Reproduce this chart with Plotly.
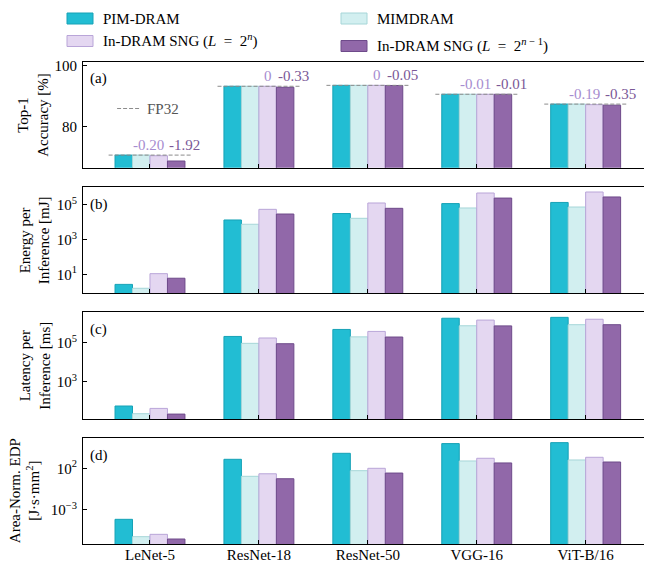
import plotly.graph_objects as go
from plotly.subplots import make_subplots

# ---------------- data ----------------
models = ["LeNet-5", "ResNet-18", "ResNet-50", "VGG-16", "ViT-B/16"]
series_names = ["PIM-DRAM", "MIMDRAM",
                "In-DRAM SNG (<i>L</i>\u2002=\u20022<sup><i>n</i></sup>)",
                "In-DRAM SNG (<i>L</i>\u2002=\u20022<sup><i>n</i>\u2005−\u20051</sup>)"]

fp32_acc = [70.8, 93.2, 93.5, 90.6, 87.4]
acc_pim = [70.8, 93.2, 93.5, 90.6, 87.4]
acc_mim = [70.8, 93.2, 93.5, 90.6, 87.4]
acc_sng_n = [70.6, 93.2, 93.5, 90.59, 87.21]
acc_sng_n1 = [68.88, 92.87, 93.45, 90.59, 87.05]
drop_sng_n = ["-0.20", "0", "0", "-0.01", "-0.19"]
drop_sng_n1 = ["-1.92", "-0.33", "-0.05", "-0.01", "-0.35"]

energy_pim = [2.6, 1.36e4, 3.2e4, 1.2e5, 1.4e5]
energy_mim = [1.55, 7.7e3, 1.7e4, 6.7e4, 7.6e4]
energy_sng_n = [10.8, 5.6e4, 1.3e5, 4.9e5, 5.6e5]
energy_sng_n1 = [5.9, 3.0e4, 6.4e4, 2.5e5, 2.9e5]

lat_pim = [57, 2.1e5, 4.8e5, 1.8e6, 2.0e6]
lat_mim = [23, 9.3e4, 2.0e5, 7.4e5, 8.4e5]
lat_sng_n = [43, 1.75e5, 3.8e5, 1.45e6, 1.6e6]
lat_sng_n1 = [22, 8.9e4, 1.96e5, 7.3e5, 8.4e5]

edp_pim = [7.6e-5, 1.2e3, 6.3e3, 9.2e4, 1.2e5]
edp_mim = [6.3e-7, 11, 52, 760, 1.0e3]
edp_sng_n = [1.2e-6, 22, 100, 1.6e3, 2.1e3]
edp_sng_n1 = [3.3e-7, 5.6, 27, 440, 570]

fills = ["#22bdd3", "#d2eff0", "#e4d7f1", "#9168a9"]
edges = ["#16a2b6", "#a6d6d8", "#b9a5d8", "#6e4a8a"]
lbl_light = "#a68ccf"
lbl_dark = "#7a5897"

FONT = "Liberation Serif"
W, H = 652, 564
OFF = 8  # the page body adds an 8 px margin; compensate so content lands at target pixels
PLOT_L, PLOT_R, PLOT_T, PLOT_B = 83 - OFF, 651 - OFF, 62 - OFF, 544 - OFF
ML, MR, MT, MB = PLOT_L, W - PLOT_R, PLOT_T, H - PLOT_B
PW, PH = W - ML - MR, H - MT - MB


def px(xp):
    return (xp - OFF - ML) / PW


def py(yp):
    return (H - MB - (yp - OFF)) / PH


panels_px = [(62, 167.7), (187.3, 293.3), (312.3, 419), (438.3, 544)]
domains = [[py(b), py(t)] for t, b in panels_px]
domains[0][1] = 1.0
domains[3][0] = 0.0

fig = make_subplots(rows=4, cols=1)
xs = list(range(len(models)))

panel_data = [
    [acc_pim, acc_mim, acc_sng_n, acc_sng_n1],
    [energy_pim, energy_mim, energy_sng_n, energy_sng_n1],
    [lat_pim, lat_mim, lat_sng_n, lat_sng_n1],
    [edp_pim, edp_mim, edp_sng_n, edp_sng_n1],
]

for r, data in enumerate(panel_data, start=1):
    for k, vals in enumerate(data):
        fig.add_trace(go.Bar(
            x=xs, y=vals, name=series_names[k], offsetgroup=str(k),
            marker=dict(color=fills[k], line=dict(color=edges[k], width=1)),
            showlegend=False), row=r, col=1)

# FP32 dashed reference lines
lx, ly = [], []
for i, v in enumerate(fp32_acc):
    lx += [i - 0.38, i + 0.38, None]
    ly += [v, v, None]
fig.add_trace(go.Scatter(x=lx, y=ly, mode="lines",
                         line=dict(color="#8c8c8c", width=1, dash="4px,2px"),
                         showlegend=False, hoverinfo="skip"), row=1, col=1)

fig.update_layout(barmode="group", bargap=0.358, bargroupgap=0)

ranges = [[66.7, 101.1], [-0.1, 6.02], [1.09, 6.56], [-7.08, 5.6]]
types = ["linear", "log", "log", "log"]
tickvals = [[80, 100], [10, 1e3, 1e5], [1e3, 1e5], [1e-3, 1e2]]
ticktext = [["80", "100"],
            ["10<sup>1</sup>", "10<sup>3</sup>", "10<sup>5</sup>"],
            ["10<sup>3</sup>", "10<sup>5</sup>"],
            ["10<sup>−3</sup>", "10<sup>2</sup>"]]

for r in range(1, 5):
    fig.update_yaxes(row=r, col=1, type=types[r - 1], range=ranges[r - 1],
                     domain=domains[r - 1], tickvals=tickvals[r - 1],
                     ticktext=ticktext[r - 1], ticks="inside", ticklen=4,
                     tickcolor="black", showline=True, linecolor="black",
                     linewidth=1, mirror=True, showgrid=False, zeroline=False,
                     automargin=False, ticklabelstandoff=2,
                     tickfont=dict(family=FONT, size=15, color="black"))
    fig.update_xaxes(row=r, col=1, range=[-0.615, 4.6], tickvals=xs,
                     ticktext=models, showticklabels=(r == 4), ticks="inside",
                     ticklen=4, tickcolor="black", showline=True,
                     linecolor="black", linewidth=1, mirror=True,
                     showgrid=False, zeroline=False, automargin=False,
                     ticklabelstandoff=-3,
                     tickfont=dict(family=FONT, size=15, color="black"))

ann = []
# accuracy drop labels
for i in range(len(models)):
    if drop_sng_n[i] == "0":
        ann.append(dict(x=i + 0.08, y=fp32_acc[i], xref="x", yref="y",
                        text=drop_sng_n[i], showarrow=False, xanchor="center",
                        yanchor="bottom", yshift=0,
                        font=dict(family=FONT, size=15, color=lbl_light)))
    else:
        ann.append(dict(x=i + 0.16, y=fp32_acc[i], xref="x", yref="y",
                        text=drop_sng_n[i], showarrow=False, xanchor="right",
                        yanchor="bottom", yshift=0, xshift=-1,
                        font=dict(family=FONT, size=15, color=lbl_light)))
    ann.append(dict(x=i + 0.16, y=fp32_acc[i], xref="x", yref="y",
                    text=drop_sng_n1[i], showarrow=False, xanchor="left",
                    yanchor="bottom", yshift=0,
                    font=dict(family=FONT, size=15, color=lbl_dark)))

# panel labels
for r, lab in enumerate(["(a)", "(b)", "(c)", "(d)"], start=1):
    yref = "y domain" if r == 1 else f"y{r} domain"
    xref = "x domain" if r == 1 else f"x{r} domain"
    ann.append(dict(x=0.008, y=1 - 17 / 106, xref=xref, yref=yref, text=lab,
                    showarrow=False, xanchor="left", yanchor="middle",
                    font=dict(family=FONT, size=15, color="black")))

# FP32 in-panel legend
fig.add_shape(type="line", xref="x domain", yref="y domain", x0=0.06, x1=0.1,
              y0=0.56, y1=0.56, line=dict(color="#8c8c8c", width=1, dash="4px,2px"))
ann.append(dict(x=0.11, y=0.56, xref="x domain", yref="y domain", text="FP32",
                showarrow=False, xanchor="left", yanchor="middle",
                font=dict(family=FONT, size=15, color="#555555")))

# y-axis titles
titles = ["Top-1<br>Accuracy [%]", "Energy per<br>Inference [mJ]",
          "Latency per<br>Inference [ms]", "Area-Norm. EDP<br>[J·s·mm<sup>2</sup>]"]
title_cx = [33, 35, 35, 25]
for r in range(4):
    t, b = panels_px[r]
    ann.append(dict(x=px(title_cx[r]), y=py((t + b) / 2), xref="paper", yref="paper",
                    text=titles[r], showarrow=False, textangle=-90,
                    xanchor="center", yanchor="middle",
                    font=dict(family=FONT, size=15, color="black")))

# custom legend
leg = [(67, 93, 18.5, 101, 0), (341, 367, 18.5, 375, 1),
       (67, 93, 41, 101, 2), (341, 367, 46, 375, 3)]
for x0, x1, yc, tx, k in leg:
    fig.add_shape(type="rect", xref="paper", yref="paper",
                  x0=px(x0), x1=px(x1), y0=py(yc + 5.5), y1=py(yc - 5.5),
                  fillcolor=fills[k], line=dict(color=edges[k], width=1))
    ann.append(dict(x=px(tx), y=py(yc), xref="paper", yref="paper",
                    text=series_names[k], showarrow=False, xanchor="left",
                    yanchor="middle",
                    font=dict(family=FONT, size=15, color="black")))

fig.update_layout(annotations=ann, width=W, height=H,
                  margin=dict(l=ML, r=MR, t=MT, b=MB),
                  plot_bgcolor="white", paper_bgcolor="white",
                  font=dict(family=FONT, size=15, color="black"))

fig.write_html("out.html")
